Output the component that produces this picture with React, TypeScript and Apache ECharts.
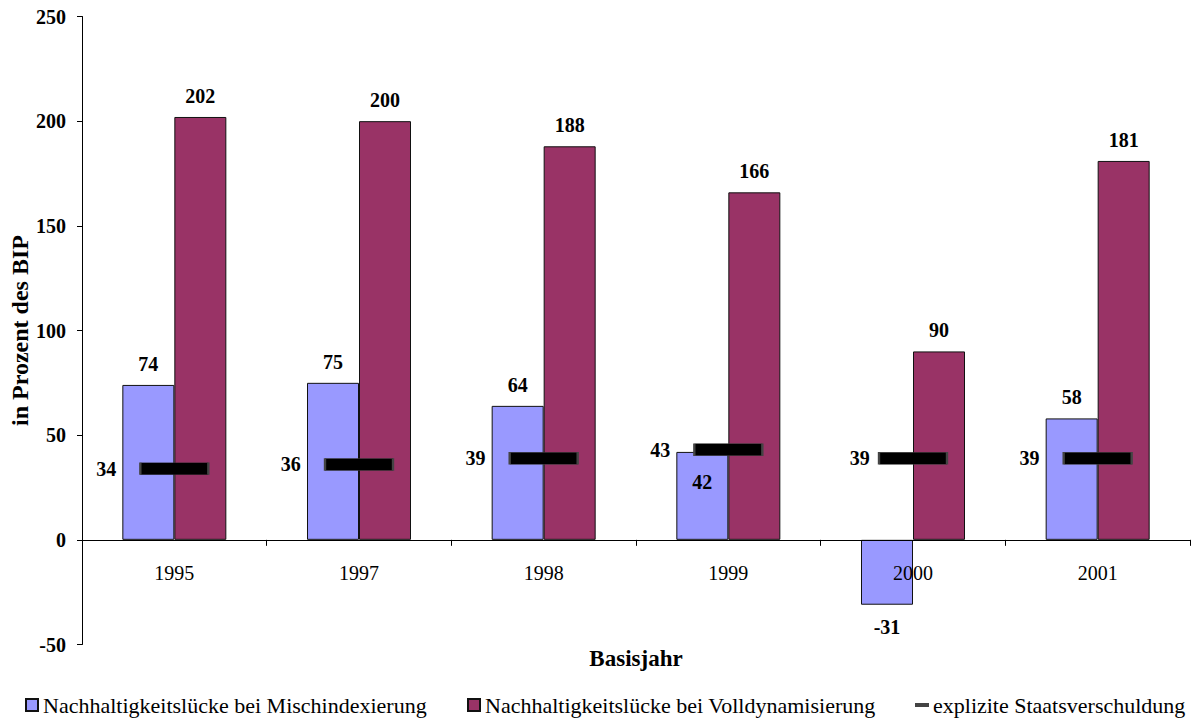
import { useEffect, useRef } from 'react';
import * as echarts from 'echarts';

// Base years on the category axis
const years = ['1995', '1997', '1998', '1999', '2000', '2001'];
// Sustainability gap with mixed indexation (% of GDP)
const gapMixed = [74, 75, 64, 42, -31, 58];
// Sustainability gap with full dynamisation (% of GDP)
const gapFull = [202, 200, 188, 166, 90, 181];
// Explicit public debt (% of GDP)
const explicitDebt = [34, 36, 39, 43, 39, 39];
// Value axis range and step
const yMin = -50;
const yMax = 250;
const yStep = 50;

const SERIF = 'Liberation Serif';
const BLUE = '#9999FF';
const PURPLE = '#993366';

const NAME_MIXED = 'Nachhaltigkeitslücke bei Mischindexierung';
const NAME_FULL = 'Nachhaltigkeitslücke bei Volldynamisierung';
const NAME_DEBT = 'explizite Staatsverschuldung';

const valueLabel = {
  show: true,
  fontFamily: SERIF,
  fontWeight: 'bold' as const,
  fontSize: 20,
  color: '#000',
};

export default function App() {
  const ref = useRef<HTMLDivElement>(null);

  useEffect(() => {
    if (!ref.current) return;
    const chart = echarts.init(ref.current, null, { renderer: 'svg' });

    // Blue bars: label above, below for negatives, inside when the debt marker sits on the bar top
    const mixedData = gapMixed.map((v, i) => {
      if (v < 0) {
        return { value: v, label: { ...valueLabel, position: 'bottom', distance: 12 } };
      }
      if (Math.abs(v - explicitDebt[i]) < 10) {
        return { value: v, label: { ...valueLabel, position: 'insideTop', distance: 20 } };
      }
      return { value: v, label: { ...valueLabel, position: 'top', distance: 11 } };
    });

    // Debt markers: label to the left, clearing the blue bar where it is positive
    const debtData = explicitDebt.map((v, i) => ({
      value: v,
      label: { ...valueLabel, position: 'left', distance: gapMixed[i] < 0 ? 8 : 23 },
    }));

    const legendText = { fontFamily: SERIF, fontSize: 22, color: '#000', fontWeight: 'normal' };
    const legendItem = (name: string, h: number, left: number) => ({
      padding: 0,
      top: 694,
      left,
      itemWidth: 12,
      itemHeight: h,
      icon: 'rect',
      textStyle: legendText,
      data: [{ name, textStyle: legendText }],
    });

    chart.setOption({
      animation: false,
      backgroundColor: '#fff',
      textStyle: { fontFamily: SERIF },
      grid: {
        left: 82,
        right: 10,
        top: 16.5,
        bottom: 77.5,
        containLabel: false,
        outerBoundsMode: 'none',
      },
      legend: [
        legendItem(NAME_MIXED, 12, 25),
        legendItem(NAME_FULL, 12, 467),
        legendItem(NAME_DEBT, 2, 915),
      ],
      xAxis: {
        type: 'category',
        data: years,
        z: 10,
        name: 'Basisjahr',
        nameLocation: 'middle',
        nameGap: 2,
        nameMoveOverlap: false,
        nameTextStyle: { fontFamily: SERIF, fontWeight: 'bold', fontSize: 23, color: '#000' },
        axisLine: { show: true, onZero: true, lineStyle: { color: '#000', width: 1 } },
        axisTick: { show: true, length: 6, inside: false, lineStyle: { color: '#000' } },
        axisLabel: { fontFamily: SERIF, fontSize: 20, color: '#000', margin: -82 },
        splitLine: { show: false },
      },
      yAxis: {
        type: 'value',
        min: yMin,
        max: yMax,
        interval: yStep,
        name: 'in Prozent des BIP',
        nameLocation: 'middle',
        nameGap: 50,
        nameRotate: 90,
        nameMoveOverlap: false,
        nameTextStyle: { fontFamily: SERIF, fontWeight: 'bold', fontSize: 24, color: '#000' },
        axisLine: { show: true, lineStyle: { color: '#000', width: 1 } },
        axisTick: { show: true, length: 5, inside: false, lineStyle: { color: '#000' } },
        axisLabel: { fontFamily: SERIF, fontWeight: 'bold', fontSize: 20, color: '#000', margin: 16 },
        splitLine: { show: false },
      },
      series: [
        {
          name: NAME_MIXED,
          type: 'bar',
          data: mixedData,
          barWidth: 52,
          barGap: '0%',
          itemStyle: { color: BLUE, borderColor: '#111', borderWidth: 1 },
          label: valueLabel,
        },
        {
          name: NAME_FULL,
          type: 'bar',
          data: gapFull,
          barWidth: 52,
          barGap: '0%',
          itemStyle: { color: PURPLE, borderColor: '#111', borderWidth: 1 },
          label: { ...valueLabel, position: 'top', distance: 11 },
        },
        {
          name: NAME_DEBT,
          type: 'scatter',
          data: debtData,
          symbol: 'rect',
          symbolSize: [68, 12],
          z: 5,
          itemStyle: { color: '#000', borderColor: '#444', borderWidth: 1, opacity: 1 },
          label: valueLabel,
        },
      ],
    });

    return () => chart.dispose();
  }, []);

  return (
    <div
      ref={ref}
      style={{ position: 'absolute', left: 0, top: 0, width: 1200, height: 722 }}
    />
  );
}
